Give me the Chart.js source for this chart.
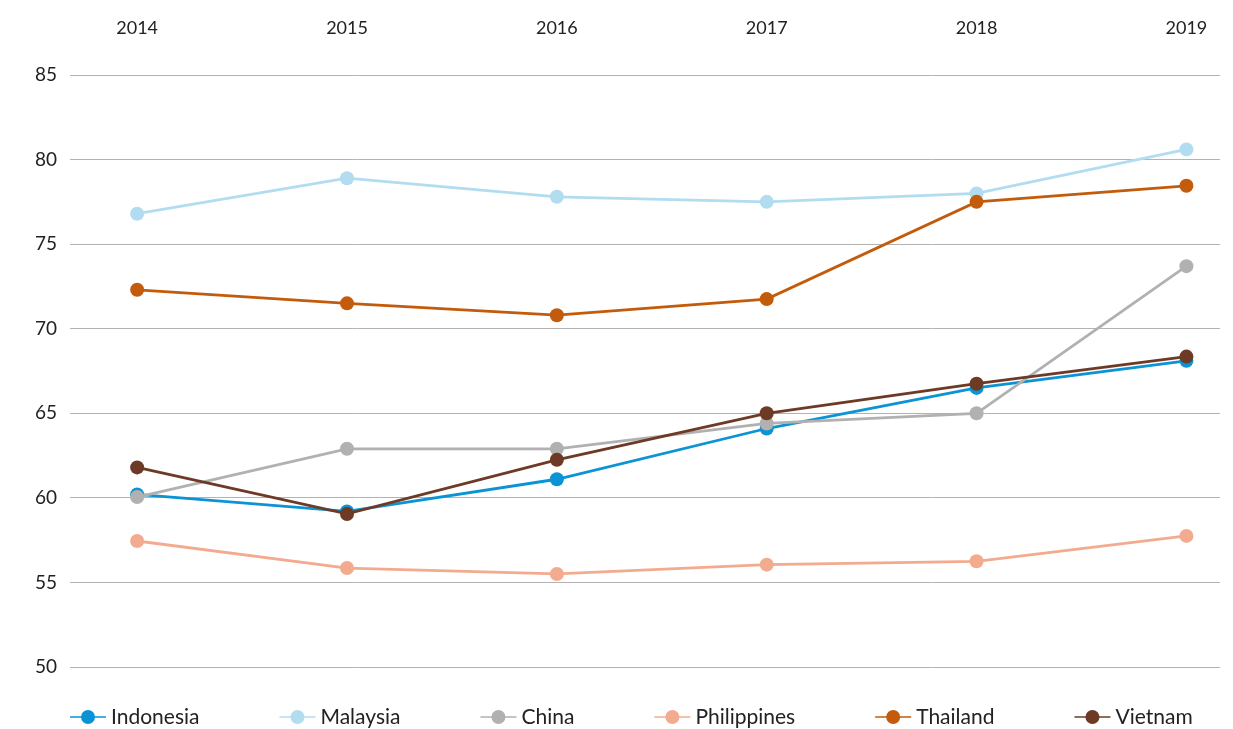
<!DOCTYPE html>
<html>
<head>
<meta charset="utf-8">
<script src="https://cdn.jsdelivr.net/npm/chart.js@4/dist/chart.umd.min.js"></script>
<style>
  html, body { margin: 0; padding: 0; background: #fff; overflow: hidden; }
  canvas { display: block; }
</style>
</head>
<body>
<canvas id="chart" width="1233" height="729"></canvas>
<script>
const years = [2014, 2015, 2016, 2017, 2018, 2019];
const yTicks = [50, 55, 60, 65, 70, 75, 80, 85];

const indonesia = [60.2, 59.2, 61.1, 64.1, 66.5, 68.1];
const malaysia = [76.8, 78.9, 77.8, 77.5, 78.0, 80.6];
const china = [60.05, 62.9, 62.9, 64.4, 65.0, 73.7];
const philippines = [57.45, 55.85, 55.5, 56.05, 56.25, 57.75];
const thailand = [72.3, 71.5, 70.8, 71.75, 77.5, 78.45];
const vietnam = [61.8, 59.05, 62.25, 65.0, 66.75, 68.35];

const seriesNames = ["Indonesia", "Malaysia", "China", "Philippines", "Thailand", "Vietnam"];
const seriesValues = [indonesia, malaysia, china, philippines, thailand, vietnam];
const colors = ["#0a93d5", "#b2dcf0", "#b1b1b1", "#f3ab8f", "#c25b0b", "#6d3a25"];

const FONT = "Lato, 'Open Sans', sans-serif";

const datasets = seriesNames.map((name, i) => ({
  label: name,
  data: years.map((yr, j) => ({ x: yr, y: seriesValues[i][j] })),
  borderColor: colors[i],
  backgroundColor: colors[i],
  pointBackgroundColor: colors[i],
  pointBorderWidth: 0,
  pointRadius: 7,
  pointHoverRadius: 7,
  borderWidth: 2.8,
  tension: 0,
  order: seriesNames.length - i, // vietnam on top
}));

// legend drawn under the plot: line + dot, then label
const bottomLegend = {
  id: "bottomLegend",
  afterDraw(chart) {
    const ctx = chart.ctx;
    const y = 717;
    let x = 70;
    ctx.save();
    ctx.font = "21px " + FONT;
    ctx.textBaseline = "middle";
    chart.data.datasets.forEach((ds) => {
      ctx.strokeStyle = ds.borderColor;
      ctx.lineWidth = 1.5;
      ctx.beginPath();
      ctx.moveTo(x, y);
      ctx.lineTo(x + 36, y);
      ctx.stroke();
      ctx.fillStyle = ds.borderColor;
      ctx.beginPath();
      ctx.arc(x + 18, y, 7, 0, Math.PI * 2);
      ctx.fill();
      ctx.fillStyle = "#222";
      ctx.fillText(ds.label, x + 41, y);
      x += 41 + ctx.measureText(ds.label).width + 80;
    });
    ctx.restore();
  },
};

const ctx = document.getElementById("chart").getContext("2d");
const chart = new Chart(ctx, {
  type: "line",
  data: { datasets: datasets },
  options: {
    responsive: false,
    animation: false,
    layout: { padding: { left: 0, right: 13, top: 0, bottom: 62 } },
    plugins: {
      legend: { display: false },
      tooltip: { enabled: false },
    },
    scales: {
      x: {
        type: "linear",
        position: "top",
        min: 2013.68,
        max: 2019.16,
        afterBuildTicks: (scale) => {
          scale.ticks = years.map((v) => ({ value: v }));
        },
        afterFit: (scale) => {
          scale.height = 75;
          scale.paddingLeft = 0;
          scale.paddingRight = 0;
        },
        grid: { display: false, drawTicks: false },
        border: { display: false },
        ticks: {
          padding: 36,
          color: "#222",
          font: { family: FONT, size: 18 },
          callback: (v) => String(v),
          maxRotation: 0,
        },
      },
      y: {
        min: 50,
        max: 85,
        afterBuildTicks: (scale) => {
          scale.ticks = yTicks.map((v) => ({ value: v }));
        },
        afterFit: (scale) => {
          scale.width = 70;
        },
        grid: { color: "#b3b3b3", lineWidth: 1, drawTicks: false },
        border: { display: false },
        ticks: {
          padding: 13,
          color: "#222",
          font: { family: FONT, size: 19 },
        },
      },
    },
  },
  plugins: [bottomLegend],
});
</script>
</body>
</html>
